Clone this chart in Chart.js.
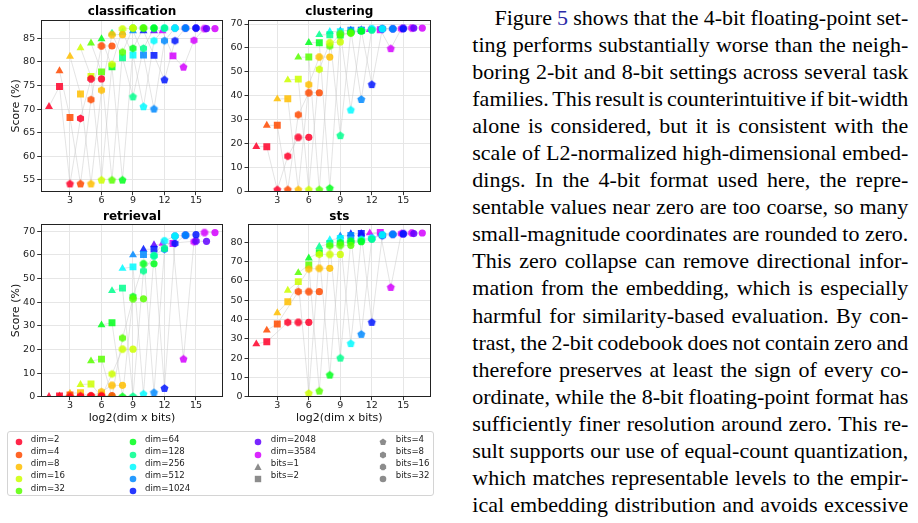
<!DOCTYPE html>
<html><head><meta charset="utf-8">
<script src="https://cdn.jsdelivr.net/npm/chart.js@4.4.1/dist/chart.umd.min.js"></script>
<style>
html,body{margin:0;padding:0;background:#fff;width:918px;height:523px;overflow:hidden;position:relative;}
canvas{position:absolute;display:block;}
.ln{position:absolute;font-family:"Liberation Serif","Times New Roman",serif;font-size:22px;line-height:22px;white-space:pre;color:#000;}
.ref{color:#2a2aa8;}
#legend{position:absolute;left:7px;top:431px;width:427px;height:65px;border:1px solid #d4d4d4;border-radius:3px;box-sizing:border-box;background:#fff;}
.lt{position:absolute;font-family:"DejaVu Sans";font-size:8.6px;line-height:12px;color:#222;white-space:pre;}
.lm{position:absolute;}
</style></head><body>
<canvas id="c1" width="232" height="212" style="left:0;top:0"></canvas>
<canvas id="c2" width="218" height="212" style="left:226px;top:0"></canvas>
<canvas id="c3" width="232" height="223" style="left:0;top:204px"></canvas>
<canvas id="c4" width="218" height="223" style="left:226px;top:204px"></canvas>
<div id="legend"></div>
<div id="para"></div>
<script>
// ---------- data ----------
const dims = [2,4,8,16,32,64,128,256,512,1024,2048,3584];
const bits = [1,2,4,8,16,32];
const dimLabels = dims.map(d => 'dim=' + d);
const bitLabels = bits.map(b => 'bits=' + b);
const dimColors = ['rgba(255,0,41,0.85)','rgba(255,74,0,0.85)','rgba(255,190,0,0.85)','rgba(204,255,0,0.85)',
  'rgba(88,255,0,0.85)','rgba(0,255,27,0.85)','rgba(0,255,141,0.85)','rgba(0,250,255,0.85)',
  'rgba(0,137,255,0.85)','rgba(0,21,255,0.85)','rgba(96,0,255,0.85)','rgba(212,0,255,0.85)'];
const xTicks = [3,6,9,12,15];
const classificationTicks = [55,60,65,70,75,80,85];
const clusteringTicks = [0,10,20,30,40,50,60,70];
const retrievalTicks = [0,10,20,30,40,50,60,70];
const stsTicks = [0,10,20,30,40,50,60,70,80];
// rows: dims, columns: bits 1,2,4,8,16,32
const classification = [
  [70.5,74.8,54.1,68.0,76.4,76.4],
  [78.1,68.2,54.1,72.0,83.4,83.4],
  [81.2,73.2,54.1,74.0,85.8,85.8],
  [83.0,76.9,54.9,79.5,87.0,87.2],
  [84.0,77.9,54.9,82.1,87.2,87.2],
  [84.9,79.0,54.9,82.9,87.2,87.2],
  [86.1,80.9,72.6,82.9,87.2,87.2],
  [86.3,81.5,70.5,84.5,87.2,87.2],
  [86.6,81.5,70.0,84.5,87.2,87.2],
  [86.6,81.4,76.2,84.5,87.2,87.2],
  [86.6,null,null,null,87.2,87.1],
  [86.6,81.3,78.9,84.6,87.1,87.1]];
const clustering = [
  [18.8,18.8,0.8,14.8,22.7,22.7],
  [27.7,27.7,0.8,32.1,41.3,41.3],
  [38.7,38.8,0.8,44.7,56.2,56.2],
  [46.6,47.0,0.8,51.1,62.2,62.5],
  [56.1,56.2,0.8,60.8,66.0,66.1],
  [62.2,62.2,1.4,65.0,66.5,67.0],
  [65.5,65.5,23.4,66.5,67.2,67.4],
  [66.8,66.8,34.1,67.4,68.0,68.0],
  [67.1,67.4,38.5,67.8,68.0,68.0],
  [67.4,67.4,44.7,68.0,68.0,68.0],
  [67.6,null,null,null,68.3,68.3],
  [67.6,67.6,59.7,68.0,68.3,68.3]];
const retrieval = [
  [0.0,0.3,0.0,0.3,0.3,0.3],
  [0.3,0.7,0.0,0.4,0.5,0.5],
  [1.4,1.7,0.0,2.1,4.8,4.8],
  [5.1,5.4,0.0,9.6,20.1,20.1],
  [15.1,15.9,0.0,24.8,41.4,41.4],
  [30.3,31.3,0.0,42.3,56.2,56.2],
  [44.8,45.9,0.1,53.2,59.6,62.7],
  [54.2,54.9,1.1,59.6,65.9,67.9],
  [59.9,60.1,1.7,62.3,67.9,68.3],
  [62.3,62.4,3.5,64.8,68.3,68.5],
  [64.2,null,null,null,65.8,65.7],
  [64.8,64.8,15.9,65.5,69.4,69.4]];
const sts = [
  [27.3,28.5,null,38.5,38.5,38.5],
  [34.4,37.7,null,54.4,54.4,54.4],
  [43.4,49.2,null,66.1,66.5,66.5],
  [55.1,59.6,1.7,73.7,73.7,73.7],
  [64.2,68.2,2.9,78.2,78.4,78.4],
  [71.8,74.6,11.2,79.8,80.3,80.3],
  [77.7,79.4,20.0,80.7,80.9,81.5],
  [81.2,82.0,27.5,81.5,82.1,83.8],
  [83.2,83.5,32.3,82.0,83.8,84.1],
  [84.3,84.5,38.5,83.4,84.1,84.3],
  [84.5,null,null,null,84.5,84.5],
  [84.8,85.1,56.6,84.5,84.8,84.8]];

// ---------- markers ----------
function polyCanvas(n, r, color, rot){
  const s = Math.ceil(2*r + 2);
  const c = document.createElement('canvas'); c.width = s; c.height = s;
  const g = c.getContext('2d'); g.fillStyle = color; g.beginPath();
  for (let k = 0; k < n; k++){
    const a = rot + k*2*Math.PI/n;
    const px = s/2 + r*Math.sin(a), py = s/2 - r*Math.cos(a);
    if (k) g.lineTo(px, py); else g.moveTo(px, py);
  }
  g.closePath(); g.fill(); return c;
}
const markerRadius = [4.6, 4.9, 4, 4, 3.8, 3.6];
function stylesFor(color){
  return ['triangle','rect', polyCanvas(5,4.2,color,0), polyCanvas(6,4.1,color,0), polyCanvas(8,4.0,color,Math.PI/8), 'circle'];
}
const dimStyles = dimColors.map(stylesFor);

// ---------- charts ----------
const framePlugin = {id:'frame', afterDatasetsDraw(chart){
  const {ctx, chartArea:a} = chart; ctx.save();
  ctx.strokeStyle = '#222'; ctx.lineWidth = 1;
  const l = Math.round(a.left)+0.5, t = Math.round(a.top)+0.5, r = Math.round(a.right)-0.5, b = Math.round(a.bottom)-0.5;
  ctx.strokeRect(l, t, r-l, b-t); ctx.restore();
}};

function buildDatasets(values){
  const ds = [];
  dims.forEach((d,i) => {
    const pts = bits.map((b,j) => ({x: Math.log2(d*b), y: values[i][j]}));
    ds.push({label: dimLabels[i]+' trend', data: pts, showLine:true, borderColor:'rgba(200,200,200,0.55)', borderWidth:0.9,
      pointRadius:0, pointHoverRadius:0, spanGaps:true, order:2, clip:0});
    ds.push({label: dimLabels[i], data: pts, showLine:false, pointStyle: dimStyles[i], pointRadius: markerRadius,
      pointHoverRadius: markerRadius, pointBackgroundColor: dimColors[i], pointBorderWidth:0, order:1, clip:0});
  });
  return ds;
}

const tickFont = {family:'DejaVu Sans', size:9.5};
function makeChart(id, title, values, yTicks, yMin, yMax, geo){
  const W = geo.W, H = geo.H;
  new Chart(document.getElementById(id), {
    type:'scatter',
    data:{datasets: buildDatasets(values)},
    plugins:[framePlugin],
    options:{
      responsive:false, animation:false, devicePixelRatio:1,
      layout:{padding:{left:0, right: W - geo.R, top:0, bottom:0}},
      plugins:{
        legend:{display:false}, tooltip:{enabled:false},
        title:{display:true, text:title, fullSize:false, color:'#000',
          font:{family:'DejaVu Sans', size:12, weight:'bold', lineHeight:1.2},
          padding:{top: geo.tt, bottom: geo.T - geo.tt - 14.4}}
      },
      scales:{
        x:{type:'linear', min:0.21, max:17.6,
          afterBuildTicks: s => { s.ticks = xTicks.map(v => ({value:v})); },
          afterFit: s => { s.height = H - geo.B; },
          ticks:{font:tickFont, color:'#222', padding:0, maxRotation:0, autoSkip:false, callback: v => String(v)},
          grid:{color:'#e6e6e6', lineWidth:1, drawTicks:true, tickLength:3.5, tickColor:'#333', tickWidth:1},
          border:{display:false},
          title:{display: geo.xTitle, text:'log2(dim x bits)', color:'#111', font:{family:'DejaVu Sans', size:11, lineHeight:1.2}, padding:{top:0, bottom:2.1}}
        },
        y:{type:'linear', min:yMin, max:yMax,
          afterBuildTicks: s => { s.ticks = yTicks.map(v => ({value:v})); },
          afterFit: s => { s.width = geo.L; },
          ticks:{font:tickFont, color:'#222', padding:2, autoSkip:false, callback: v => String(v)},
          grid:{color:'#e6e6e6', lineWidth:1, drawTicks:true, tickLength:3.5, tickColor:'#333', tickWidth:1},
          border:{display:false},
          title:{display: geo.yTitle, text:'Score (%)', color:'#111', font:{family:'DejaVu Sans', size:11, lineHeight:1.2}, padding:{top:9.2, bottom:0}}
        }
      }
    }
  });
}
makeChart('c1','classification', classification, classificationTicks, 52.44, 88.92,
  {W:232, H:212, L:40.7, R:223.3, T:20, B:191.7, tt:4.8, xTitle:false, yTitle:true});
makeChart('c2','clustering', clustering, clusteringTicks, 0, 71.67,
  {W:218, H:212, L:22, R:204.6, T:20, B:191.7, tt:4.8, xTitle:false, yTitle:false});
makeChart('c3','retrieval', retrieval, retrievalTicks, 0, 72.9,
  {W:232, H:223, L:40.7, R:223.3, T:20.3, B:192.7, tt:5.3, xTitle:true, yTitle:true});
makeChart('c4','sts', sts, stsTicks, 0, 89.3,
  {W:218, H:223, L:22, R:204.6, T:20.3, B:192.7, tt:5.3, xTitle:true, yTitle:false});

// ---------- legend ----------
const legend = document.getElementById('legend');
const colX = [[18.7,30.7],[133.3,145],[258.3,270.7],[382.7,395.7]];
const rowY = [438.3,450.7,462.9,475.1,487.4];
const grey = 'rgba(128,128,128,0.9)';
function svgShape(kind, color){
  const s = 10, c = 5; let el;
  if (kind === 'circle') el = `<circle cx="${c}" cy="${c}" r="3.3" fill="${color}"/>`;
  else if (kind === 'triangle') el = `<polygon points="${c},${c-3.8} ${c-3.6},${c+2.9} ${c+3.6},${c+2.9}" fill="${color}"/>`;
  else if (kind === 'rect') el = `<rect x="${c-3.2}" y="${c-3.2}" width="6.4" height="6.4" fill="${color}"/>`;
  else {
    const n = kind, r = n===5?3.6:(n===6?3.5:3.4), rot = n===8?Math.PI/8:0; const p=[];
    for (let k=0;k<n;k++){ const a = rot + k*2*Math.PI/n; p.push((c+r*Math.sin(a)).toFixed(2)+','+(c-r*Math.cos(a)).toFixed(2)); }
    el = `<polygon points="${p.join(' ')}" fill="${color}"/>`;
  }
  return `<svg width="${s}" height="${s}" viewBox="0 0 ${s} ${s}">${el}</svg>`;
}
const legendItems = [];
dims.forEach((d,i) => legendItems.push({label: dimLabels[i], kind:'circle', color: dimColors[i]}));
const bitKinds = ['triangle','rect',5,6,8,'circle'];
bits.forEach((b,j) => legendItems.push({label: bitLabels[j], kind: bitKinds[j], color: grey}));
const colCounts = [5,5,4,4];
let idx = 0;
colCounts.forEach((n,ci) => {
  for (let r = 0; r < n; r++, idx++){
    const it = legendItems[idx];
    const m = document.createElement('div'); m.className = 'lm';
    m.style.left = (colX[ci][0] - 5 - 8) + 'px'; m.style.top = (rowY[r] - 5 - 432) + 'px';
    m.innerHTML = svgShape(it.kind, it.color); legend.appendChild(m);
    const t = document.createElement('div'); t.className = 'lt'; t.textContent = it.label;
    t.style.left = (colX[ci][1] - 8) + 'px'; t.style.top = (rowY[r] - 5.8 - 432) + 'px';
    legend.appendChild(t);
  }
});

// ---------- paragraph ----------
const paraLines = [
  "Figure 5 shows that the 4-bit floating-point set-",
  "ting performs substantially worse than the neigh-",
  "boring 2-bit and 8-bit settings across several task",
  "families. This result is counterintuitive if bit-width",
  "alone is considered, but it is consistent with the",
  "scale of L2-normalized high-dimensional embed-",
  "dings. In the 4-bit format used here, the repre-",
  "sentable values near zero are too coarse, so many",
  "small-magnitude coordinates are rounded to zero.",
  "This zero collapse can remove directional infor-",
  "mation from the embedding, which is especially",
  "harmful for similarity-based evaluation. By con-",
  "trast, the 2-bit codebook does not contain zero and",
  "therefore preserves at least the sign of every co-",
  "ordinate, while the 8-bit floating-point format has",
  "sufficiently finer resolution around zero. This re-",
  "sult supports our use of equal-count quantization,",
  "which matches representable levels to the empir-",
  "ical embedding distribution and avoids excessive"];
const para = document.getElementById('para');
const rightEdge = 908.3;
paraLines.forEach((txt, i) => {
  const d = document.createElement('div'); d.className = 'ln';
  const left = i === 0 ? 494.5 : 472.3;
  d.style.left = left + 'px';
  d.style.top = (25 + 27.09*i - 18.43) + 'px';
  if (i === 0) {
    d.innerHTML = 'Figure <span class="ref">5</span>' + txt.slice(8).replace(/&/g,'&amp;');
  } else d.textContent = txt;
  para.appendChild(d);
  const w = d.getBoundingClientRect().width;
  const spaces = (txt.match(/ /g) || []).length;
  if (spaces) d.style.wordSpacing = ((rightEdge - left - w) / spaces) + 'px';
});
</script>
</body></html>
